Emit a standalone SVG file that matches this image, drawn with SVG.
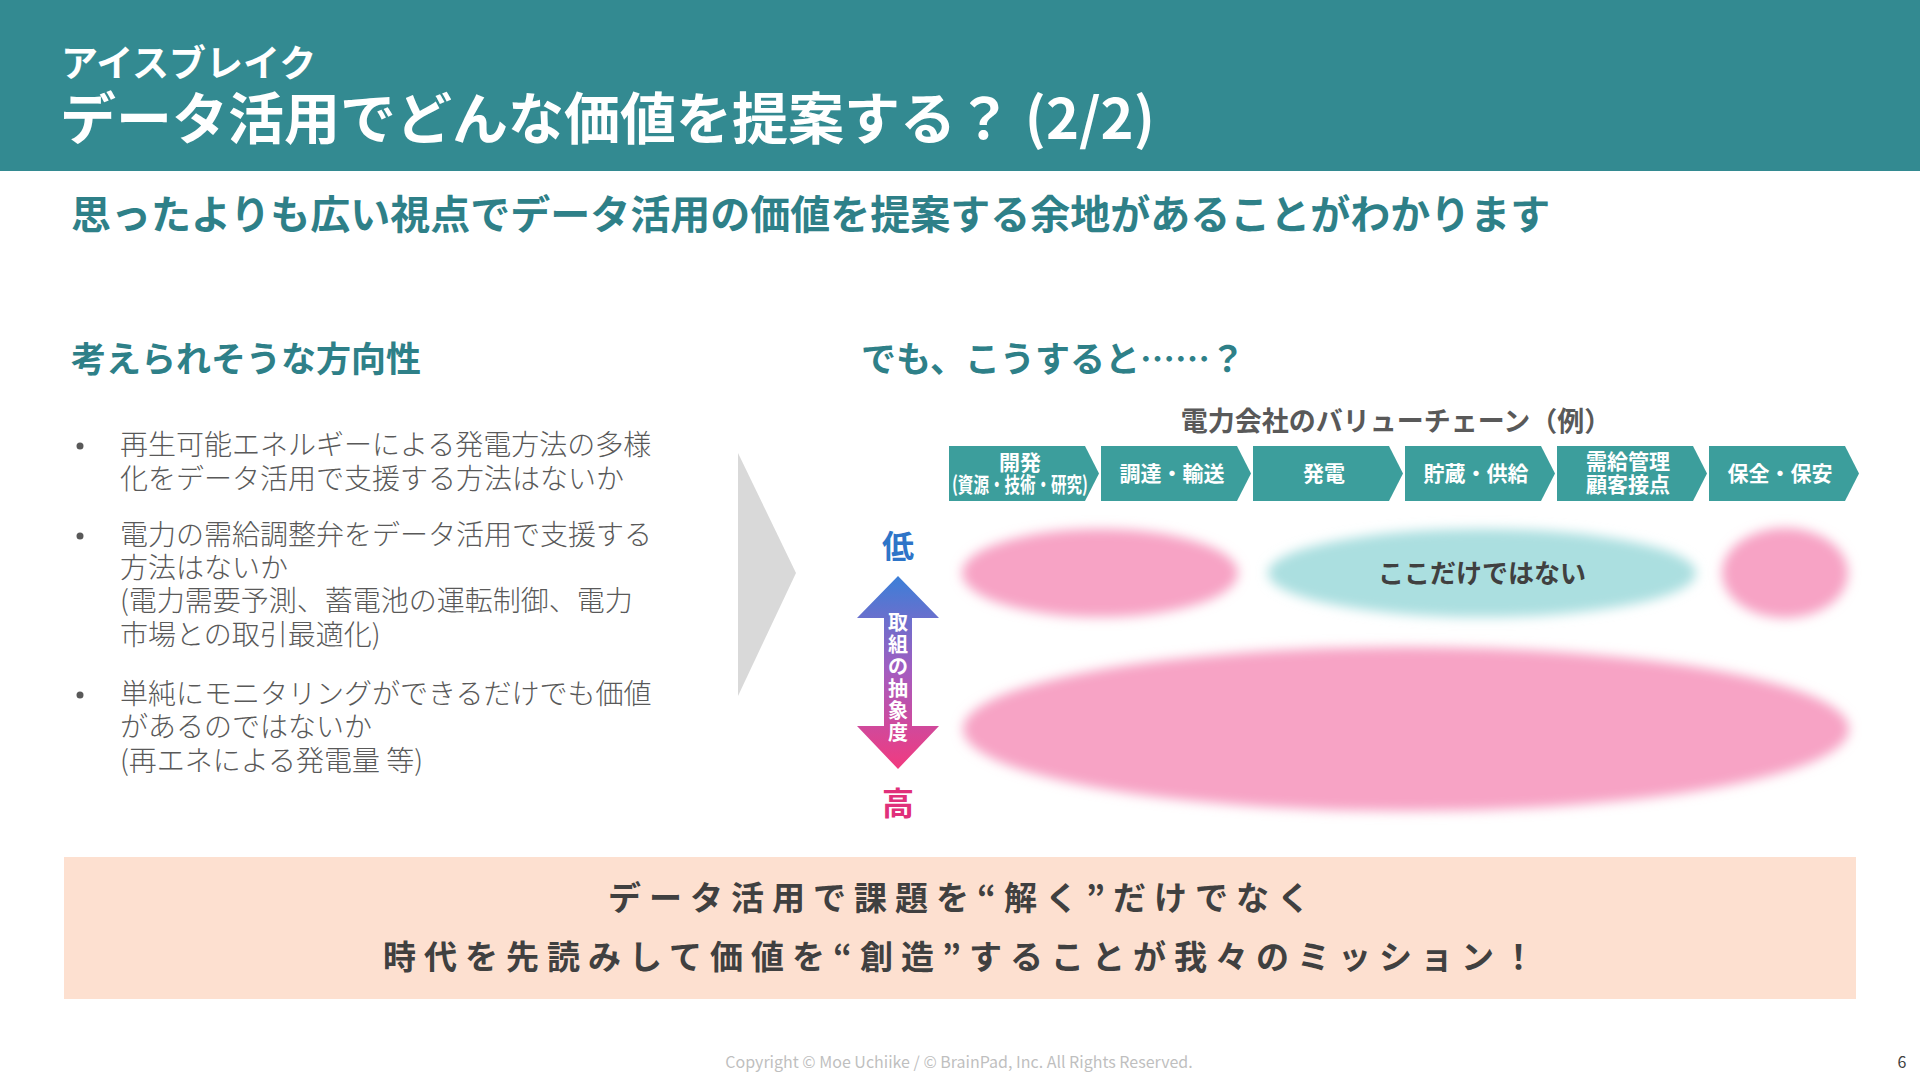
<svg xmlns="http://www.w3.org/2000/svg" width="1920" height="1080" viewBox="0 0 1920 1080">
<defs>
<style>
text{font-family:"Noto Sans CJK JP","Noto Sans",sans-serif;}
.hd{fill:#ffffff;font-weight:700;}
.teal{fill:#2e8088;font-weight:700;}
.bul{fill:#595959;font-size:28px;font-weight:300;}
.chev{fill:#3c9e9c;}
.ct{fill:#ffffff;font-weight:700;font-size:21px;text-anchor:middle;}
.ban{fill:#404040;font-weight:700;font-size:33px;text-anchor:middle;letter-spacing:8px;}
</style>
<filter id="blur" x="-20%" y="-40%" width="140%" height="180%"><feGaussianBlur stdDeviation="6"/></filter>
<linearGradient id="ag" x1="0" y1="0" x2="0" y2="1">
<stop offset="0" stop-color="#3b7fd8"/>
<stop offset="0.5" stop-color="#a55cbf"/>
<stop offset="1" stop-color="#f23a7f"/>
</linearGradient>
</defs>
<rect width="1920" height="1080" fill="#ffffff"/>
<g id="header">
<rect x="0" y="0" width="1920" height="171" fill="#338a91"/>
<text class="hd" x="61" y="77" font-size="37">アイスブレイク</text>
<text class="hd" x="60" y="139" font-size="56">データ活用でどんな価値を提案する？ (2/2)</text>
</g>
<text id="subtitle" class="teal" x="71" y="229" font-size="40">思ったよりも広い視点でデータ活用の価値を提案する余地があることがわかります</text>
<g id="left">
<text class="teal" x="71" y="372" font-size="35">考えられそうな方向性</text>
<g class="bul">
<circle cx="80" cy="446" r="3.5" fill="#595959"/>
<text class="bul" x="120" y="455">再生可能エネルギーによる発電方法の多様</text>
<text class="bul" x="120" y="489">化をデータ活用で支援する方法はないか</text>
<circle cx="80" cy="536" r="3.5" fill="#595959"/>
<text class="bul" x="120" y="545">電力の需給調整弁をデータ活用で支援する</text>
<text class="bul" x="120" y="578">方法はないか</text>
<text class="bul" x="120" y="611">(電力需要予測、蓄電池の運転制御、電力</text>
<text class="bul" x="120" y="645">市場との取引最適化)</text>
<circle cx="80" cy="695" r="3.5" fill="#595959"/>
<text class="bul" x="120" y="704">単純にモニタリングができるだけでも価値</text>
<text class="bul" x="120" y="737">があるのではないか</text>
<text class="bul" x="120" y="771">(再エネによる発電量 等)</text>
</g>
</g>
<polygon id="bigArrow" points="738,453 796,573 738,696" fill="#d9d9d9"/>
<text id="rightTitle" class="teal" x="861" y="372" font-size="35">でも、こうすると……？</text>
<text id="vcTitle" x="1396" y="431" font-size="27" font-weight="700" fill="#595959" text-anchor="middle">電力会社のバリューチェーン（例）</text>
<g id="valuechain">
<g id="vc1"><polygon class="chev" points="949,446 1085,446 1099,473.5 1085,501 949,501"/>
<text class="ct" x="1020" y="470">開発</text>
<text class="ct" x="1020" y="492" font-size="13" textLength="136" lengthAdjust="spacingAndGlyphs">(資源・技術・研究)</text></g>
<g id="vc2"><polygon class="chev" points="1101,446 1237,446 1251,473.5 1237,501 1101,501"/>
<text class="ct" x="1172" y="481">調達・輸送</text></g>
<g id="vc3"><polygon class="chev" points="1253,446 1389,446 1403,473.5 1389,501 1253,501"/>
<text class="ct" x="1324" y="481">発電</text></g>
<g id="vc4"><polygon class="chev" points="1405,446 1541,446 1555,473.5 1541,501 1405,501"/>
<text class="ct" x="1476" y="481">貯蔵・供給</text></g>
<g id="vc5"><polygon class="chev" points="1557,446 1693,446 1707,473.5 1693,501 1557,501"/>
<text class="ct" x="1628" y="469">需給管理</text>
<text class="ct" x="1628" y="492">顧客接点</text></g>
<g id="vc6"><polygon class="chev" points="1709,446 1845,446 1859,473.5 1845,501 1709,501"/>
<text class="ct" x="1780" y="481">保全・保安</text></g>
</g>
<g id="scopes">
<ellipse cx="1100" cy="573" rx="138" ry="44" fill="#f7a3c5" filter="url(#blur)"/>
<ellipse cx="1482" cy="573" rx="214" ry="44" fill="#abdfe0" filter="url(#blur)"/>
<ellipse cx="1785" cy="573" rx="63" ry="45" fill="#f7a3c5" filter="url(#blur)"/>
<ellipse cx="1406" cy="729" rx="443" ry="82" fill="#f7a3c5" filter="url(#blur)"/>
<text x="1482" y="583" font-size="26" font-weight="700" fill="#404040" text-anchor="middle">ここだけではない</text>
</g>
<g id="axis">
<text x="898" y="558" font-size="32" font-weight="700" fill="#2e75c8" text-anchor="middle">低</text>
<polygon points="898,576 939,618 912,618 912,726 939,726 898,769 857,726 884,726 884,618 857,618" fill="url(#ag)"/>
<text x="898" y="630" font-size="20" font-weight="700" fill="#ffffff" text-anchor="middle"><tspan x="898">取</tspan><tspan x="898" dy="22">組</tspan><tspan x="898" dy="22">の</tspan><tspan x="898" dy="22">抽</tspan><tspan x="898" dy="22">象</tspan><tspan x="898" dy="22">度</tspan></text>
<text x="898" y="815" font-size="32" font-weight="700" fill="#e0307a" text-anchor="middle">高</text>
</g>
<g id="banner">
<rect x="64" y="857" width="1792" height="142" fill="#fde0d0"/>
<text class="ban" x="963" y="910">データ活用で課題を“解く”だけでなく</text>
<text class="ban" x="963" y="969" letter-spacing="8.5">時代を先読みして価値を“創造”することが我々のミッション！</text>
</g>
<g id="footer">
<text x="959" y="1068" font-size="16" fill="#bfbfbf" text-anchor="middle">Copyright © Moe Uchiike / © BrainPad, Inc. All Rights Reserved.</text>
<text x="1902" y="1068" font-size="16" fill="#404040" text-anchor="middle">6</text>
</g>
</svg>
